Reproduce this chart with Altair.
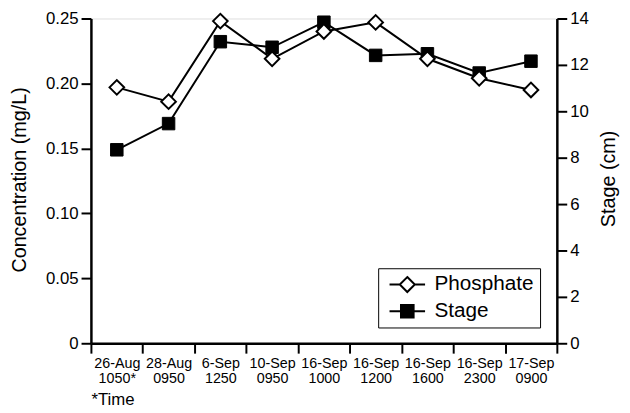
import altair as alt
import pandas as pd

times = ["26-Aug 1050*", "28-Aug 0950", "6-Sep 1250", "10-Sep 0950", "16-Sep 1000",
         "16-Sep 1200", "16-Sep 1600", "16-Sep 2300", "17-Sep 0900"]
phosphate = [0.197, 0.186, 0.248, 0.219, 0.240, 0.247, 0.219, 0.204, 0.195]
stage = [8.34, 9.47, 13.0, 12.76, 13.84, 12.41, 12.48, 11.65, 12.16]
series_names = ["Phosphate", "Stage"]

df = pd.DataFrame({"time": times, "phosphate": phosphate, "stage": stage})
legend_df = pd.DataFrame({"series": series_names})

FONT = "Liberation Sans"

x_enc = alt.X(
    "time:N", sort=times, bandPosition=0.5,
    scale=alt.Scale(type="band", paddingInner=0, paddingOuter=0),
    axis=alt.Axis(
        title="*Time", titleX=0, titleY=57, titleAlign="left", titleBaseline="middle",
        titleFontSize=17, titleFontWeight="normal", titleFont=FONT, titleColor="black",
        labelExpr="isValid(datum.value) ? split(datum.value, ' ') : ''", labelAngle=0,
        labelFontSize=14.5, labelLineHeight=15, labelFont=FONT, labelColor="black",
        labelPadding=4, labelBaseline="top",
        tickBand="extent", tickSize=10, tickWidth=2, tickColor="black",
        domainColor="black", domainWidth=2.5, grid=False,
    ),
)

axis_common = dict(
    tickSize=10, tickWidth=2, tickColor="black", domainColor="black", domainWidth=2.5,
    labelFontSize=17, labelFont=FONT, labelColor="black", labelPadding=3,
    titleFontSize=20, titleFont=FONT, titleFontWeight="normal", titleColor="black",
    titleAngle=270, titleBaseline="middle", titleAlign="center", grid=False,
)

y_phos = alt.Y(
    "phosphate:Q", scale=alt.Scale(domain=[0, 0.25], nice=False, zero=True),
    axis=alt.Axis(
        orient="left", title="Concentration (mg/L)", values=[0, 0.05, 0.10, 0.15, 0.20, 0.25],
        labelExpr="datum.value == 0 ? '0' : format(datum.value, '.2f')",
        titleX=-72, titleY=163, **axis_common,
    ),
)
y_stage = alt.Y(
    "stage:Q", scale=alt.Scale(domain=[0, 14], nice=False, zero=True),
    axis=alt.Axis(
        orient="right", title="Stage (cm)", values=list(range(0, 15, 2)),
        titleX=52, titleY=162, **axis_common,
    ),
)

stage_line = alt.Chart(df).mark_line(color="black", strokeWidth=2).encode(x=x_enc, y=y_stage)
stage_pts = alt.Chart(df).mark_point(
    shape="square", filled=True, fill="black", stroke="black", strokeWidth=1, size=160, opacity=1
).encode(x=x_enc, y=y_stage)

phos_line = alt.Chart(df).mark_line(color="black", strokeWidth=2).encode(x=x_enc, y=y_phos)
phos_pts = alt.Chart(df).mark_point(
    shape="diamond", filled=True, fill="white", stroke="black", strokeWidth=2, size=220, opacity=1
).encode(x=x_enc, y=y_phos)

path_phos = "M-2.25,0H-0.95M0.95,0H2.25M0,-0.95L0.95,0L0,0.95L-0.95,0Z"
path_stage = "M-2.25,0H2.25M-0.8,-0.8H0.8V0.8H-0.8Z"

leg = alt.Legend(
    title=None, orient="none", legendX=291, legendY=253,
    strokeColor="black", fillColor="white", padding=6, cornerRadius=0,
    symbolSize=256, symbolOffset=13, labelOffset=17, rowPadding=3,
    labelFontSize=21, labelFont=FONT, labelColor="black",
    symbolStrokeColor="black", symbolStrokeWidth=2, symbolOpacity=1,
)

legend_layer = alt.Chart(legend_df).mark_point(
    filled=True, size=256, strokeWidth=2, clip=True
).encode(
    x=alt.value(-60), y=alt.value(-60),
    shape=alt.Shape("series:N", scale=alt.Scale(domain=series_names, range=[path_phos, path_stage]), legend=leg),
    fill=alt.Fill("series:N", scale=alt.Scale(domain=series_names, range=["white", "black"]), legend=leg),
    stroke=alt.Stroke("series:N", scale=alt.Scale(domain=series_names, range=["black", "black"]), legend=leg),
)

right = alt.layer(stage_line, stage_pts)
left = alt.layer(phos_line, phos_pts, legend_layer)

chart = alt.layer(right, left).resolve_scale(y="independent").properties(
    width=472, height=329,
    autosize=alt.AutoSizeParams(type="none"),
    padding={"left": 84, "top": 8, "right": 66, "bottom": 68},
).configure_view(stroke=None).configure(background="white")

chart.save("out.html", embed_options={"renderer": "svg", "actions": False})
